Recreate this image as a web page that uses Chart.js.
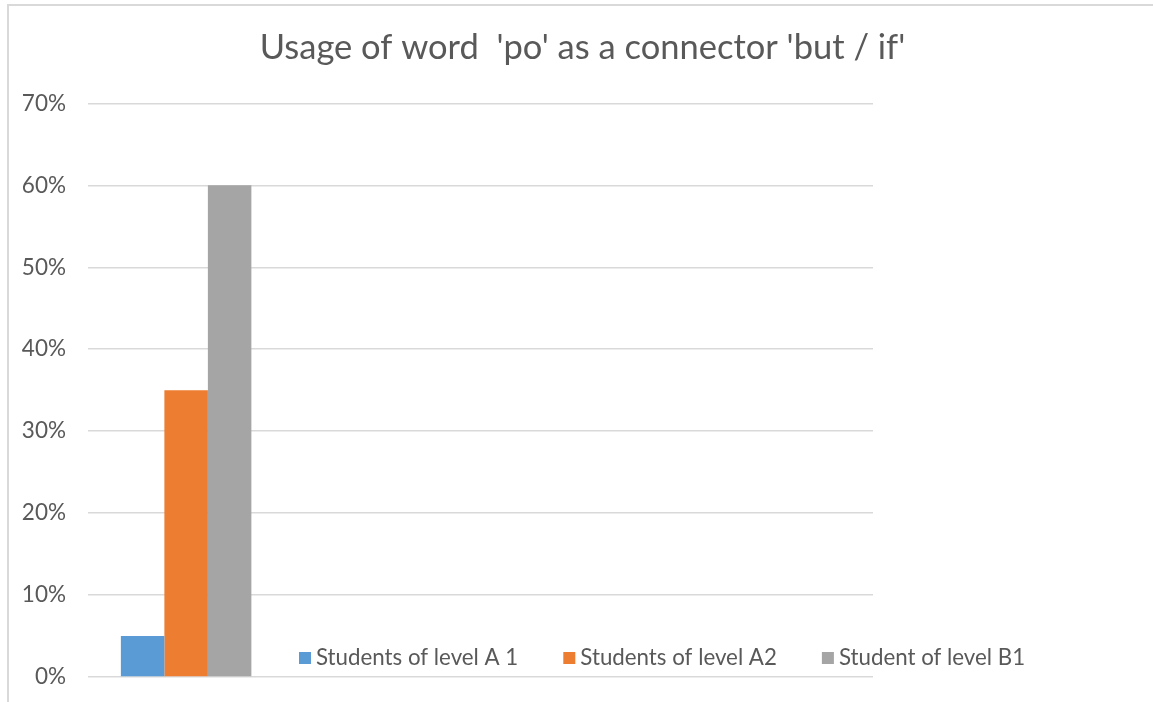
<!DOCTYPE html>
<html>
<head>
<meta charset="utf-8">
<script src="https://cdn.jsdelivr.net/npm/chart.js@4.4.1/dist/chart.umd.min.js"></script>
<style>
  html, body { margin: 0; padding: 0; background: #fff; overflow: hidden; }
  #frame {
    position: absolute; left: 7px; top: 4px; width: 1300px; height: 800px;
    border: 2px solid #d9d9d9; box-sizing: border-box;
  }
  #wrap { position: absolute; left: 0; top: 0; width: 1153px; height: 702px; }
</style>
</head>
<body>
<div id="frame"></div>
<div id="wrap"><canvas id="chart" width="1153" height="702"></canvas></div>
<script>
const chartTitle = "Usage of word  'po' as a connector 'but / if'";
const categories = ['1', '2', '3', '4'];
const seriesNames = ['Students of level A 1', 'Students of level A2', 'Student of level B1'];
const seriesColors = ['#5b9bd5', '#ed7d31', '#a5a5a5'];
const levelA1 = [0.05, null, null, null];
const levelA2 = [0.35, null, null, null];
const levelB1 = [0.60, null, null, null];
const yTicks = [0, 0.1, 0.2, 0.3, 0.4, 0.5, 0.6, 0.7];

const textColor = '#595959';
const fontFamily = 'Lato, "Open Sans", sans-serif';

// legend sits inside the plot, right of the bars, like the original
const insideLegend = {
  id: 'insideLegend',
  afterDraw(chart, args, opts) {
    const { ctx, chartArea } = chart;
    ctx.save();
    ctx.font = `${opts.size}px ${fontFamily}`;
    ctx.textBaseline = 'middle';
    ctx.textAlign = 'left';
    let x = opts.x;
    const y = chartArea.bottom - opts.offset;
    chart.data.datasets.forEach((ds) => {
      ctx.fillStyle = ds.backgroundColor;
      ctx.fillRect(x, y - 6, 12, 12);
      ctx.fillStyle = textColor;
      ctx.fillText(ds.label, x + 17, y);
      x += 17 + ctx.measureText(ds.label).width + opts.gap;
    });
    ctx.restore();
  },
};

const datasets = [levelA1, levelA2, levelB1].map((values, i) => ({
  label: seriesNames[i],
  data: values,
  backgroundColor: seriesColors[i],
  categoryPercentage: 0.665,
  barPercentage: 1,
}));

new Chart(document.getElementById('chart'), {
  type: 'bar',
  data: { labels: categories, datasets },
  plugins: [insideLegend],
  options: {
    responsive: false,
    animation: false,
    layout: { padding: { left: 12, right: 0, top: 0, bottom: 25 } },
    plugins: {
      legend: { display: false },
      tooltip: { enabled: false },
      title: {
        display: true,
        text: chartTitle,
        color: textColor,
        font: { family: fontFamily, size: 34.5, weight: 'normal', lineHeight: 1.2 },
        padding: { top: 27, bottom: 35 },
      },
      insideLegend: { x: 299, offset: 19, size: 22.3, gap: 45 },
    },
    scales: {
      x: { display: false },
      y: {
        min: 0,
        max: 0.7,
        afterFit(scale) {
          scale.width = 76;
          scale.paddingTop = 0;
          scale.paddingBottom = 0;
        },
        afterBuildTicks(scale) { scale.ticks = yTicks.map((v) => ({ value: v })); },
        border: { display: false },
        grid: { color: '#d9d9d9', lineWidth: 1.5, drawTicks: false },
        ticks: {
          padding: 22,
          color: textColor,
          font: { family: fontFamily, size: 22.5 },
          callback: (v) => `${Math.round(v * 100)}%`,
        },
      },
      spacer: {
        position: 'right',
        display: true,
        afterFit(scale) { scale.width = 280; },
        border: { display: false },
        grid: { display: false },
        ticks: { display: false },
      },
    },
  },
});
</script>
</body>
</html>
